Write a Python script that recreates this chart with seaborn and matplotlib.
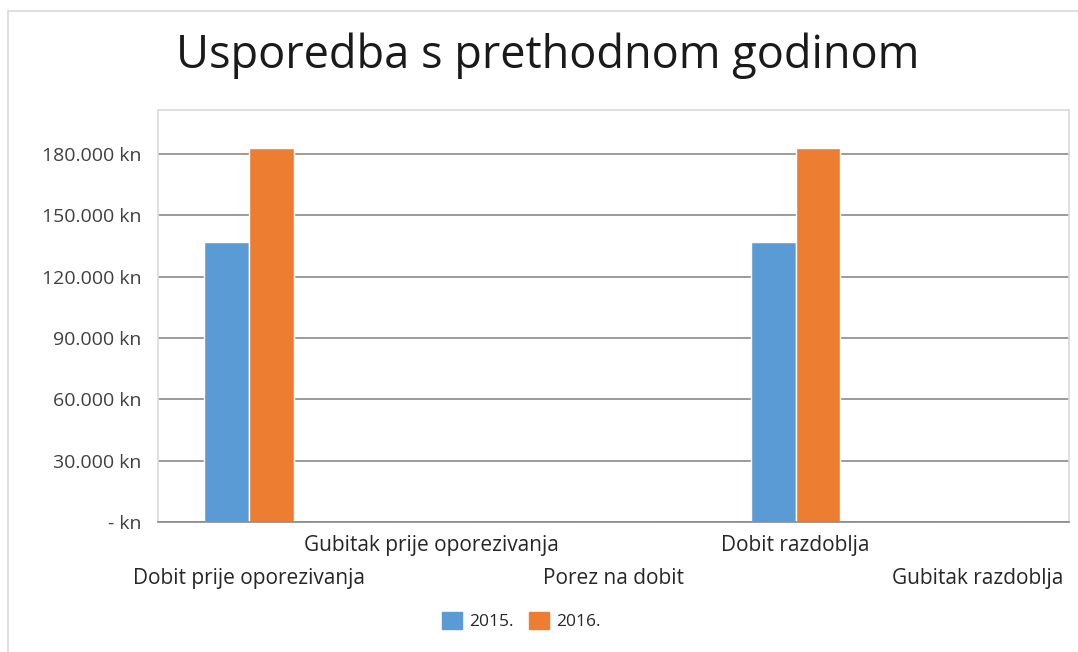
import matplotlib
matplotlib.use("Agg")
import matplotlib.pyplot as plt
from matplotlib.patches import Rectangle
from matplotlib.ticker import FuncFormatter
from matplotlib.transforms import blended_transform_factory
import pandas as pd
import seaborn as sns

# Data
categories = ["Dobit prije oporezivanja", "Gubitak prije oporezivanja",
              "Porez na dobit", "Dobit razdoblja", "Gubitak razdoblja"]
years = ["2015.", "2016."]
values_2015 = [137000, 0, 0, 137000, 0]
values_2016 = [183000, 0, 0, 183000, 0]
y_ticks = [0, 30000, 60000, 90000, 120000, 150000, 180000]

colors = {"2015.": "#5B9BD5", "2016.": "#ED7D31"}

df = pd.DataFrame({
    "kategorija": categories * 2,
    "godina": [years[0]] * len(categories) + [years[1]] * len(categories),
    "iznos": values_2015 + values_2016,
})

sns.set_style("white")
plt.rcParams["font.family"] = ["Open Sans", "DejaVu Sans"]

fig = plt.figure(figsize=(10.78, 6.52), dpi=100)
ax = fig.add_axes([158 / 1078, 1 - 522 / 652, 911 / 1078, 412 / 652])

# outer chart frame
fig.patches.append(Rectangle((8 / 1078, -0.05), 1.1, 1 - 11 / 652 + 0.05,
                             transform=fig.transFigure, fill=False,
                             edgecolor="#d9d9d9", linewidth=1.2))

sns.barplot(data=df, x="kategorija", y="iznos", hue="godina", order=categories,
            hue_order=years, palette=colors, width=0.49, saturation=1,
            ax=ax, legend=False)

ax.set_ylim(0, 201500)
ax.set_xlim(-0.5, len(categories) - 0.5)
ax.set_yticks(y_ticks)
ax.yaxis.set_major_formatter(FuncFormatter(
    lambda v, p: "- kn" if v == 0 else "{:,.0f} kn".format(v).replace(",", ".")))
ax.yaxis.grid(True, color="#8a8a8a", linewidth=1.2)
ax.set_axisbelow(True)

# staggered category labels (two rows, like Excel)
ax.set_xticks(range(len(categories)))
ax.set_xticklabels([])
trans = blended_transform_factory(ax.transData, ax.transAxes)
for i, c in enumerate(categories):
    row_y = -0.056 if i % 2 else -0.137
    ax.text(i, row_y, c, transform=trans, ha="center", va="center",
            fontsize=15, color="#262626")
ax.tick_params(axis="x", length=0)
ax.tick_params(axis="y", length=0, pad=12, labelsize=14, labelcolor="#404040")
ax.set_xlabel("")
ax.set_ylabel("")

for side in ["left", "top", "right"]:
    ax.spines[side].set_color("#d9d9d9")
    ax.spines[side].set_linewidth(1.2)
ax.spines["bottom"].set_color("#8a8a8a")
ax.spines["bottom"].set_linewidth(1.2)

fig.text(0.508, 1 - 56 / 652, "Usporedba s prethodnom godinom", ha="center",
         va="center", fontsize=32.5, color="#1a1a1a")

handles = [Rectangle((0, 0), 1, 1, color=colors[y]) for y in years]
fig.legend(handles, years, loc="center", bbox_to_anchor=(521 / 1078, 1 - 621 / 652),
           ncol=2, frameon=False, fontsize=12.5, handlelength=1.15, handleheight=1.2,
           columnspacing=0.9, handletextpad=0.4)

fig.savefig("out.png", dpi=100)
